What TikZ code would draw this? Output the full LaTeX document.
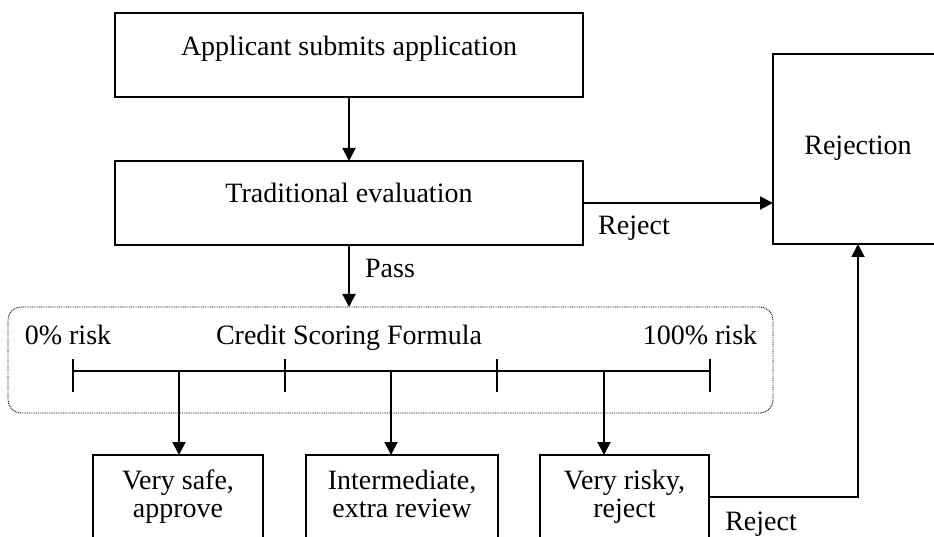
\documentclass[tikz,border=0pt]{standalone}
\usepackage{fontspec}
\setmainfont{Liberation Serif}
\usetikzlibrary{arrows.meta}
\tikzset{
  box/.style={draw, line width=1.4pt, inner sep=0pt, outer sep=0pt},
  dotbox/.style={draw, line width=0.9pt, dash pattern=on 0.9pt off 0.9pt, rounded corners=13pt, inner sep=0pt, outer sep=0pt},
  conn/.style={line width=1.9pt, -{Triangle[length=13pt,width=13pt]}},
  tick/.style={line width=1.4pt},
  txt/.style={anchor=base, inner sep=0pt, font=\fontsize{28}{33}\selectfont}
}
\begin{document}
\begin{tikzpicture}[x=1pt,y=-1pt]
\useasboundingbox (0,0) rectangle (934,537);
\clip (0,0) rectangle (934,537);
% boxes
\node[box, minimum width=468pt, minimum height=84pt] (app) at (349,55) {};
\node[box, minimum width=468pt, minimum height=84pt] (trad) at (349,203) {};
\node[box, minimum width=177pt, minimum height=190pt] (rej) at (861.5,149) {};
\node[dotbox, minimum width=765pt, minimum height=106pt] (form) at (390.5,360) {};
\node[box, minimum width=170pt, minimum height=125pt] (safe) at (178,517.5) {};
\node[box, minimum width=192pt, minimum height=125pt] (inter) at (402,517.5) {};
\node[box, minimum width=169pt, minimum height=125pt] (risky) at (624.5,517.5) {};
% texts
\node[txt] (t1) at (349,56) {Applicant submits application};
\node[txt] (t2) at (349,203) {Traditional evaluation};
\node[txt] (t3) at (858,155) {Rejection};
\node[txt] (rj1) at (634,235) {Reject};
\node[txt] (pass) at (390,278) {Pass};
\node[txt] (r0) at (68,344) {0\% risk};
\node[txt] (csf) at (349,344) {Credit Scoring Formula};
\node[txt] (r100) at (700,344) {100\% risk};
\node[txt] (s1) at (178,489) {Very safe,};
\node[txt] (s2) at (178,517) {approve};
\node[txt] (i1) at (402,489) {Intermediate,};
\node[txt] (i2) at (402,517) {extra review};
\node[txt] (k1) at (624.5,489) {Very risky,};
\node[txt] (k2) at (624.5,517) {reject};
\node[txt] (rj2) at (761,530) {Reject};
% scale
\coordinate (a0) at (73,371);
\coordinate (a1) at (285,371);
\coordinate (a2) at (497,371);
\coordinate (a3) at (710,371);
\coordinate (m1) at (179,371);
\coordinate (m2) at (391,371);
\coordinate (m3) at (604,371);
\draw[tick] (a0) -- (a3);
\foreach \p in {a0,a1,a2,a3} \draw[tick] ([yshift=12pt]\p) -- ([yshift=-21pt]\p);
% connectors
\draw[conn] (app.south) -- (trad.north);
\draw[conn] (trad.east) -- (trad.east -| rej.west);
\draw[conn] (trad.south) -- (trad.south |- form.north);
\draw[conn] (m1) -- (m1 |- safe.north);
\draw[conn] (m2) -- (m2 |- inter.north);
\draw[conn] (m3) -- (m3 |- risky.north);
\coordinate (rk) at (709,497);
\coordinate (rb) at (858,244);
\draw[conn] (rk) -| (rb);
\end{tikzpicture}
\end{document}
